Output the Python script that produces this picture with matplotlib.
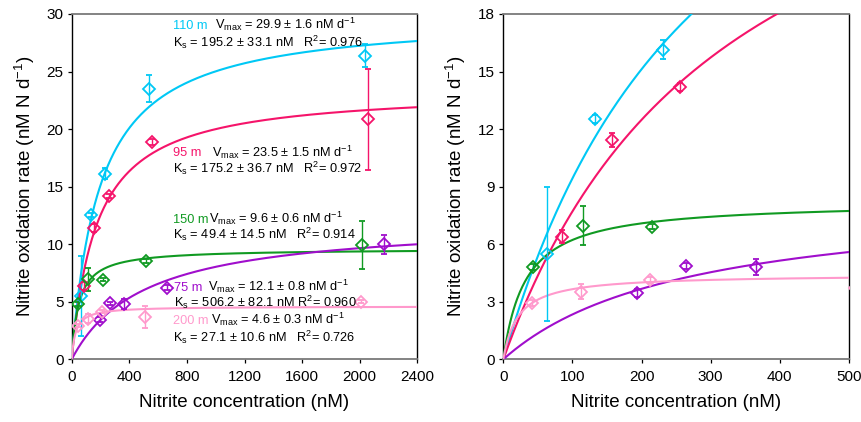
"""Nitrite oxidation kinetics: Michaelis-Menten fits at five depths (full range + low-concentration zoom)."""

import matplotlib
matplotlib.use("Agg")
import matplotlib.pyplot as plt
import numpy as np

plt.rcParams["font.family"] = ["Liberation Sans", "DejaVu Sans"]
plt.rcParams["mathtext.fontset"] = "custom"
plt.rcParams["mathtext.rm"] = "Liberation Sans"
plt.rcParams["mathtext.it"] = "Liberation Sans:italic"

DEPTHS = ["110 m", "95 m", "150 m", "75 m", "200 m"]
COLORS = ["#00C8F5", "#F5146A", "#109A22", "#A00ECC", "#FF99CC"]

# fitted parameters shown on the left panel
VMAX = [29.9, 23.5, 9.6, 12.1, 4.6]
VMAX_ERR = [1.6, 1.5, 0.6, 0.8, 0.3]
KS = [195.2, 175.2, 49.4, 506.2, 27.1]
KS_ERR = [33.1, 36.7, 14.5, 82.1, 10.6]
R2 = [0.976, 0.972, 0.914, 0.960, 0.726]

# curves drawn on the zoomed panel
VMAX_ZOOM = [38.1, 32.8, 8.23, 8.57, 4.43]
KS_ZOOM = [304.0, 325.5, 32.3, 266.5, 21.2]

# measurements: nitrite (nM), rate (nM N d-1), error
X_110 = [62.7, 132.5, 231, 535, 2037]
Y_110 = [5.49, 12.54, 16.13, 23.5, 26.35]
E_110 = [3.5, 0.2, 0.5, 1.16, 1.0]

X_95 = [85.3, 156.6, 256, 555, 2055]
Y_95 = [6.39, 11.43, 14.18, 18.9, 20.85]
E_95 = [0.33, 0.35, 0.2, 0.25, 4.4]

X_150 = [43.4, 114.7, 214.4, 514, 2014]
Y_150 = [4.80, 6.97, 6.92, 8.54, 9.93]
E_150 = [0.15, 1.0, 0.15, 0.2, 2.1]

X_75 = [194, 265, 365, 660, 2169]
Y_75 = [3.44, 4.86, 4.80, 6.22, 9.99]
E_75 = [0.2, 0.15, 0.42, 0.2, 0.85]

X_200 = [41, 111.8, 212, 509, 2007]
Y_200 = [2.92, 3.53, 4.13, 3.7, 5.0]
E_200 = [0.15, 0.4, 0.15, 0.95, 0.15]

POINTS = [
    (X_110, Y_110, E_110),
    (X_95, Y_95, E_95),
    (X_150, Y_150, E_150),
    (X_75, Y_75, E_75),
    (X_200, Y_200, E_200),
]

# annotation anchors (data coords of left panel): label x, V text x, line1 y, line2 y
LABEL_POS = [
    (703, 995, 28.67, 27.16),
    (703, 972, 17.62, 16.16),
    (703, 955, 11.87, 10.43),
    (710, 949, 5.93, 4.54),
    (703, 965, 3.04, 1.53),
]


def mm(x, vmax, ks):
    return vmax * x / (ks + x)


def style_axes(ax):
    for side in ("left", "right"):
        ax.spines[side].set_color("black")
        ax.spines[side].set_linewidth(1.0)
    for side in ("top", "bottom"):
        ax.spines[side].set_color("#7a7a7a")
        ax.spines[side].set_linewidth(1.3)
    ax.tick_params(axis="both", direction="out", length=3, width=0.9, labelsize=11, pad=3)
    ax.tick_params(axis="x", pad=5)
    ax.set_xlabel("Nitrite concentration (nM)", fontsize=13.5, labelpad=7)
    ax.set_ylabel(r"Nitrite oxidation rate (nM N d$^{-1}$)", fontsize=13.5, labelpad=7)


def draw_points(ax):
    for (xs, ys, es), c in zip(POINTS, COLORS):
        ax.errorbar(xs, ys, yerr=es, fmt="D", ms=5.8, mfc="none", mec=c, mew=1.3,
                    ecolor=c, elinewidth=1.0, capsize=2.5, capthick=1.0, zorder=4)


fig = plt.figure(figsize=(8.62, 4.22), dpi=100)
ax1 = fig.add_axes([0.0832, 0.1486, 0.4009, 0.8183])
ax2 = fig.add_axes([0.5839, 0.1486, 0.4009, 0.8183])

xx1 = np.linspace(0, 2400, 600)
for vm, ks, c in zip(VMAX, KS, COLORS):
    ax1.plot(xx1, mm(xx1, vm, ks), color=c, lw=1.5, zorder=3)
draw_points(ax1)
ax1.set_xlim(0, 2400)
ax1.set_ylim(0, 30)
ax1.set_xticks(np.arange(0, 2401, 400))
ax1.set_yticks(np.arange(0, 31, 5))
style_axes(ax1)

for i, depth in enumerate(DEPTHS):
    lx, vx, y1, y2 = LABEL_POS[i]
    ax1.text(lx, y1, depth, color=COLORS[i], fontsize=9.2, va="baseline", zorder=6)
    ax1.text(vx, y1, r"V$_{\mathrm{max}}$ = %.1f ± %.1f nM d$^{-1}$" % (VMAX[i], VMAX_ERR[i]),
             color="black", fontsize=9.2, va="baseline", zorder=6)
    gap = "   " if KS[i] < 500 else " "
    ax1.text(701 if i != 3 else 710, y2,
             r"K$_{\mathrm{s}}$ = %.1f ± %.1f nM%sR$^{2}$= %.3f" % (KS[i], KS_ERR[i], gap, R2[i]),
             color="black", fontsize=9.2, va="baseline", zorder=6)

xx2 = np.linspace(0, 500, 400)
for vm, ks, c in zip(VMAX_ZOOM, KS_ZOOM, COLORS):
    ax2.plot(xx2, mm(xx2, vm, ks), color=c, lw=1.5, zorder=3)
draw_points(ax2)
ax2.set_xlim(0, 500)
ax2.set_ylim(0, 18)
ax2.set_xticks(np.arange(0, 501, 100))
ax2.set_yticks(np.arange(0, 19, 3))
style_axes(ax2)

fig.savefig("out.png", dpi=100)
